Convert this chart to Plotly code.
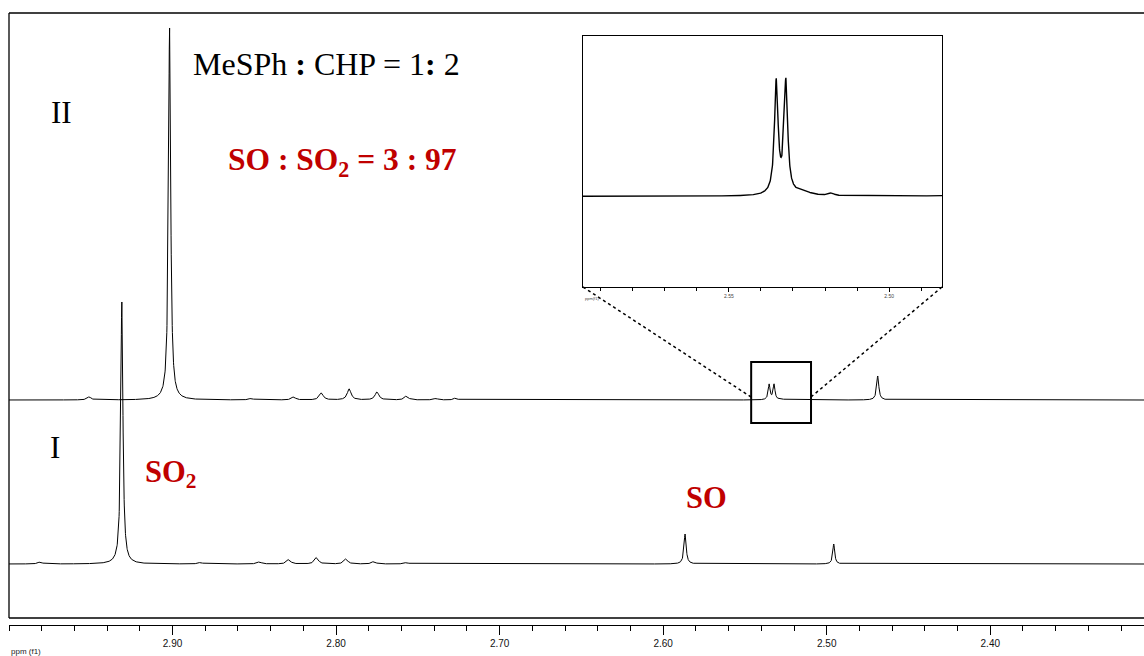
import numpy as np
import plotly.graph_objects as go

# ---- peak tables (ppm, height, half-width at half-height in ppm) ----
# spectrum I
ppm_I = [2.981, 2.931, 2.883, 2.847, 2.829, 2.812, 2.794, 2.777, 2.757, 2.5866, 2.4957]
height_I = [2.0, 262.0, 1.5, 2.0, 4.5, 6.5, 5.0, 2.5, 1.5, 30.0, 20.0]
hwhm_I = [0.0015, 0.0008, 0.0015, 0.0015, 0.0014, 0.0014, 0.0014, 0.0014, 0.0015, 0.0008, 0.0007]

# spectrum II
ppm_II = [2.951, 2.9018, 2.852, 2.826, 2.809, 2.792, 2.775, 2.757, 2.739, 2.727,
          2.5352, 2.5322, 2.527, 2.518, 2.4688]
height_II = [3.0, 372.0, 1.5, 3.0, 7.0, 11.0, 8.0, 4.0, 1.5, 2.0,
             15.3, 15.3, 0.5, 0.35, 24.0]
hwhm_II = [0.0014, 0.0008, 0.0015, 0.0014, 0.0014, 0.0014, 0.0014, 0.0014, 0.0015, 0.0012,
           0.00068, 0.00068, 0.003, 0.001, 0.0008]

# axis labels
major_ticks = [2.90, 2.80, 2.70, 2.60, 2.50, 2.40]
inset_ticks = [2.55, 2.50]

# ---- layout constants ----
W, H = 1144, 656
L, T, B = 9, 13, 31
PW, PH = W - L, H - T - B
X_RANGE = [3.0, 2.306]
INSET_RANGE = [2.5955, 2.4835]
OFFSET_I, OFFSET_II = 61.0, 225.0
RED = "#C00000"
SERIF = "Liberation Serif, Times New Roman, serif"
NARROW = "Liberation Sans Narrow, Arial Narrow, Liberation Sans, sans-serif"


def lorentz_sum(x, centers, heights, widths):
    y = np.zeros_like(x)
    for c, h, w in zip(centers, heights, widths):
        y += h / (1.0 + ((x - c) / w) ** 2)
    return y


def paper(px, py):
    """pixel position in the page -> paper coordinates"""
    return (px - L) / PW, (H - B - py) / PH


x = np.arange(X_RANGE[1], X_RANGE[0] + 1e-9, 0.0001)
y_I = OFFSET_I + lorentz_sum(x, ppm_I, height_I, hwhm_I)
y_II = OFFSET_II + lorentz_sum(x, ppm_II, height_II, hwhm_II)

xi = np.arange(INSET_RANGE[1], INSET_RANGE[0] + 1e-9, 0.00005)
y_inset = OFFSET_II + lorentz_sum(xi, ppm_II, height_II, hwhm_II)

fig = go.Figure()
fig.add_trace(go.Scatter(x=x, y=y_I, mode="lines", line=dict(color="black", width=1),
                         hoverinfo="skip"))
fig.add_trace(go.Scatter(x=x, y=y_II, mode="lines", line=dict(color="black", width=1),
                         hoverinfo="skip"))
fig.add_trace(go.Scatter(x=xi, y=y_inset, mode="lines", line=dict(color="black", width=1.4),
                         xaxis="x2", yaxis="y2", hoverinfo="skip"))

ix0, iy0 = paper(583, 287)
ix1, iy1 = paper(942, 36)

fig.update_layout(
    width=W, height=H,
    margin=dict(l=L, r=0, t=T, b=B, pad=0),
    paper_bgcolor="white", plot_bgcolor="white",
    showlegend=False,
    xaxis=dict(
        range=X_RANGE, showgrid=False, zeroline=False,
        showline=True, linecolor="black", linewidth=1.3,
        ticks="outside", ticklen=9, tickwidth=1.3, tickcolor="black",
        tickmode="array", tickvals=major_ticks,
        ticktext=[f"{v:.2f}" for v in major_ticks],
        tickfont=dict(family=NARROW, size=10, color="#111"),
        minor=dict(tickmode="linear", tick0=2.40, dtick=0.02, ticks="outside",
                   ticklen=5, tickwidth=1.3, tickcolor="black", showgrid=False),
    ),
    yaxis=dict(range=[0, PH], visible=False),
    xaxis2=dict(
        domain=[ix0, ix1], anchor="y2", range=INSET_RANGE,
        showgrid=False, zeroline=False,
        showline=True, mirror=True, linecolor="black", linewidth=1.2,
        ticks="outside", ticklen=4, tickwidth=1, tickcolor="black",
        tickmode="array", tickvals=inset_ticks,
        ticktext=[f"{v:.2f}" for v in inset_ticks],
        tickfont=dict(family=NARROW, size=5, color="#444"),
        minor=dict(tickmode="linear", tick0=2.50, dtick=0.01, ticks="outside",
                   ticklen=3, tickwidth=1, tickcolor="black", showgrid=False),
    ),
    yaxis2=dict(
        domain=[iy0, iy1], anchor="x2", range=[OFFSET_II - 12.4, OFFSET_II + 21.9],
        showgrid=False, zeroline=False, showticklabels=False, ticks="",
        showline=True, mirror=True, linecolor="black", linewidth=1.2,
    ),
)

# frame around the spectra (right side runs off the page)
_, fb = paper(0, 618)
frame = dict(type="line", xref="paper", yref="paper", line=dict(color="black", width=1.3))
fig.add_shape(**frame, x0=0, x1=0, y0=fb, y1=1)
fig.add_shape(**frame, x0=0, x1=1, y0=1, y1=1)
fig.add_shape(**frame, x0=0, x1=1, y0=fb, y1=fb)

# zoom box around the doublet and its guide lines to the inset
fig.add_shape(type="rect", xref="x", yref="y", x0=2.5462, x1=2.5096, y0=202, y1=263,
              line=dict(color="black", width=2))
bx0, by = paper(751, 397)
bx1, _ = paper(811, 397)
dot = dict(type="line", xref="paper", yref="paper", line=dict(color="black", width=1.5, dash="dot"))
fig.add_shape(**dot, x0=ix0, y0=iy0, x1=bx0, y1=by)
fig.add_shape(**dot, x0=ix1, y0=iy0, x1=bx1, y1=by)


def label(text, px, py, size, color="black", xanchor="left", family=SERIF):
    ax, ay = paper(px, py)
    fig.add_annotation(x=ax, y=ay, xref="paper", yref="paper", text=text, showarrow=False,
                       xanchor=xanchor, yanchor="middle",
                       font=dict(family=family, size=size, color=color))


label("MeSPh <b>:</b> CHP = 1<b>:</b> 2", 191, 64, 32)
label("<b>SO : SO<sub>2</sub> = 3 : 97</b>", 226, 162, 31.5, RED)
label("II", 61, 113, 31, xanchor="center")
label("I", 55, 448, 31, xanchor="center")
label("<b>SO<sub>2</sub></b>", 143, 474, 30.5, RED)
label("<b>SO</b>", 684, 498, 30.5, RED)
label("ppm (f1)", 9, 651, 8, "#222", family=NARROW)
label("ppm(f1)", 583, 298, 4, "#444", family=NARROW)

fig.write_html("out.html")
